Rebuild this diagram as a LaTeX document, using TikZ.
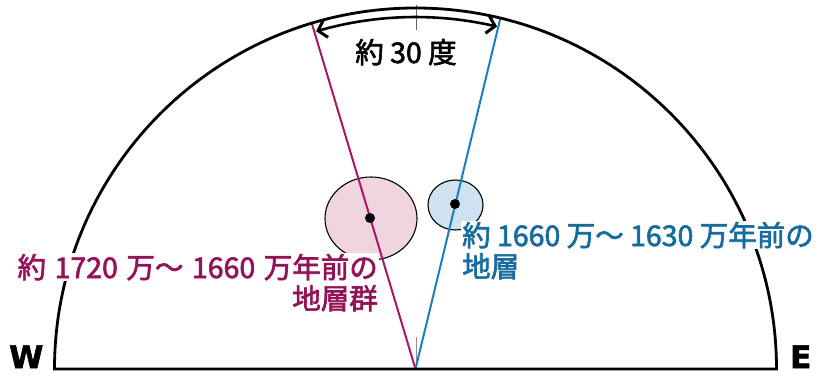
\documentclass[tikz,border=0pt]{standalone}
\usepackage{fontspec}
\setmainfont{Noto Sans CJK JP}[FakeBold=2.2]
\newfontfamily\wefont{DejaVu Sans}[FakeBold=2]
\usetikzlibrary{arrows.meta,bending,shapes.geometric}
\definecolor{magline}{RGB}{168,22,100}
\definecolor{magtext}{RGB}{150,18,88}
\definecolor{blueline}{RGB}{25,128,188}
\definecolor{bluetext}{RGB}{22,108,158}
\definecolor{pinkfill}{RGB}{240,212,224}
\definecolor{bluefill}{RGB}{206,226,241}
\tikzset{
  outline/.style={line width=2.8pt, line join=miter},
  tickline/.style={line width=0.8pt, draw=black!60},
  blob/.style={ellipse, draw=black, line width=1.1pt, inner sep=0pt},
  dotmark/.style={circle, fill=black, inner sep=0pt, minimum size=10pt},
  lbl/.style={font=\fontsize{28.5}{34}\selectfont, inner xsep=1pt, inner ysep=1pt},
  maglabel/.style={lbl, text=magtext, fill=white},
  bluelabel/.style={lbl, text=bluetext, fill=white},
  dirlabel/.style={font=\wefont\bfseries\fontsize{31}{36}\selectfont, inner sep=0pt},
}
\begin{document}
\begin{tikzpicture}[x=1pt,y=1pt]
\useasboundingbox (0,0) rectangle (823,376);
\coordinate (O) at (415.5,7);
\coordinate (L) at (54.5,7);
\coordinate (R) at (776.5,7);
\path (O) ++(106.7:361) coordinate (Mtop);
\path (O) ++(76.4:361) coordinate (Btop);
\path (O) ++(106.4:352) coordinate (Astart);
\coordinate (T1) at (416,346);
\coordinate (T2) at (416,371);
\coordinate (B1) at (416,7);
\coordinate (B2) at (416,39);

% ellipses
\node[blob, fill=pinkfill, minimum width=92pt, minimum height=83pt] (pink) at (371,157.5) {};
\node[blob, fill=bluefill, minimum width=55pt, minimum height=50pt] (blue) at (455.5,171) {};

% ticks
\draw[tickline] (T1) -- (T2);
\draw[tickline, draw=black!45] (B1) -- (B2);

% lines
\draw[magline, line width=2pt] (O) -- (Mtop);
\draw[blueline, line width=2pt] (O) -- (Btop);

% dots
\node[dotmark] (pdot) at (370,158) {};
\node[dotmark] (bdot) at (455,172) {};

% outline
\draw[outline] (L) arc[start angle=180, end angle=0, radius=361] -- cycle;

% angle arrow
\draw[line width=2.6pt, {Straight Barb[length=8pt,width=18pt,line width=3pt,bend]}-{Straight Barb[length=8pt,width=18pt,line width=3pt,bend]}]
  (Astart) arc[start angle=106.4, end angle=76.6, radius=352];

% labels
\node[lbl, anchor=base] (deg) at (406,313) {約 30 度};
\node[maglabel, anchor=base east] (m1) at (379,98) {約\hspace{0.3em}1720\hspace{0.3em}万～\hspace{0.3em}1660\hspace{0.3em}万年前の};
\node[maglabel, anchor=base east] (m2) at (379,67) {地層群};
\node[bluelabel, anchor=base west] (b1) at (461,130) {約 1660 万～ 1630 万年前の};
\node[bluelabel, anchor=base west] (b2) at (461,99) {地層};
\node[dirlabel, anchor=base west] (W) at (9,8) {W};
\node[dirlabel, anchor=base west] (E) at (790,8) {E};
\end{tikzpicture}
\end{document}
